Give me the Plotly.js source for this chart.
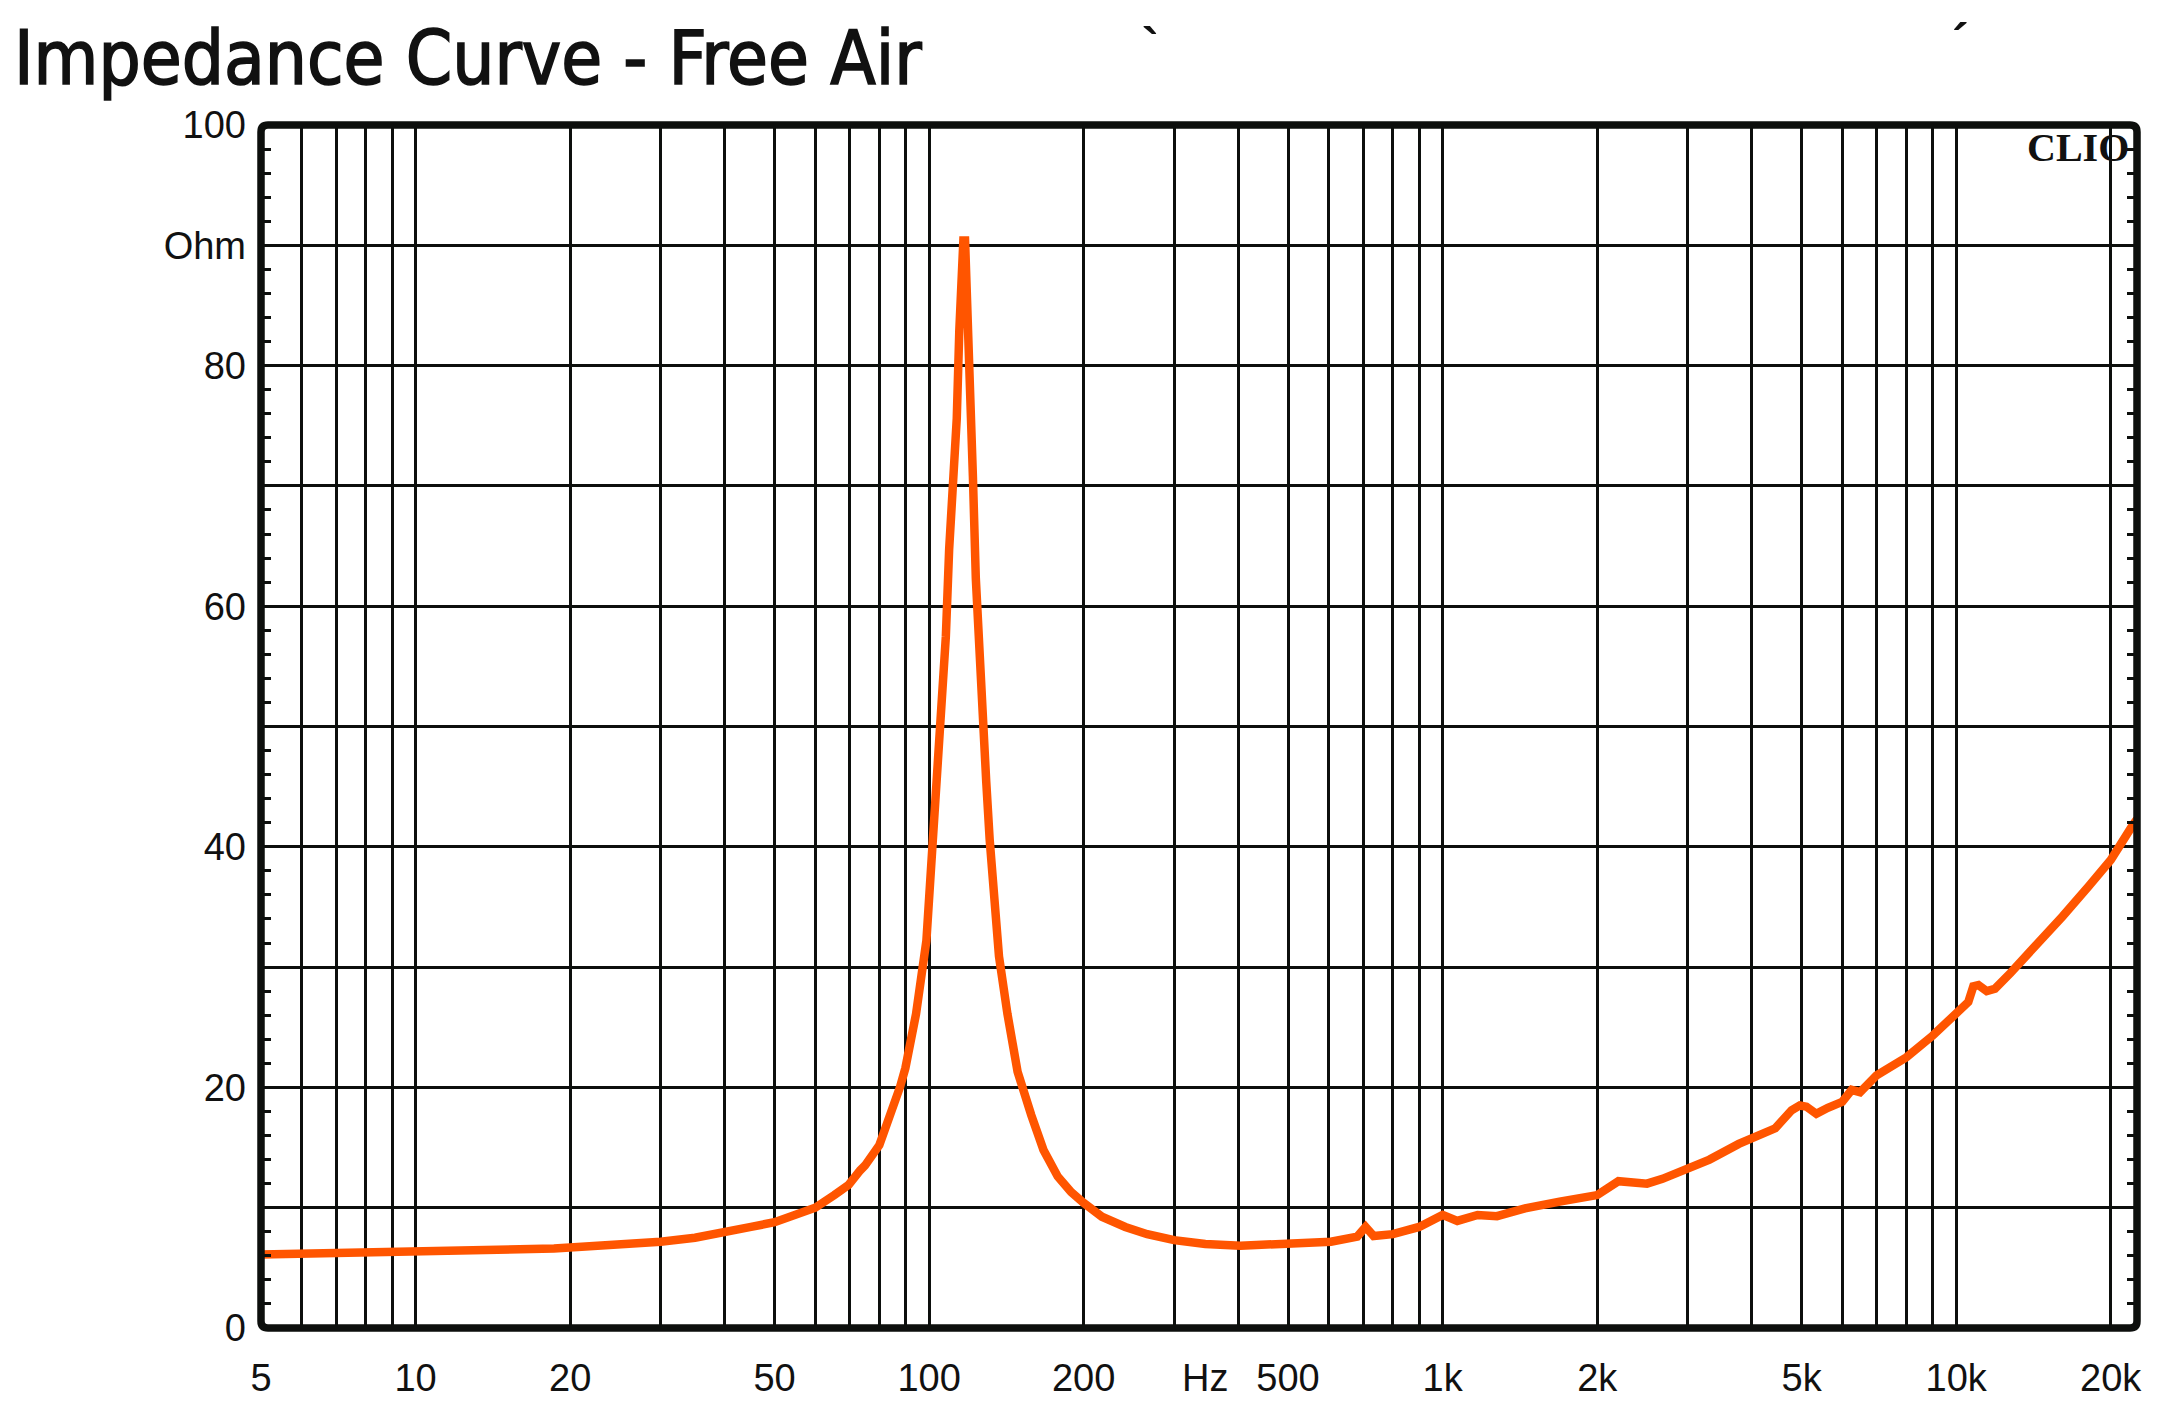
<!DOCTYPE html>
<html>
<head>
<meta charset="utf-8">
<script src="https://cdn.plot.ly/plotly-3.0.1.min.js"></script>
<style>
html,body{margin:0;padding:0;background:#fff;}
#chart{width:2164px;height:1414px;}
#chart .gtitle{stroke:#111;stroke-width:1.6px;}
</style>
</head>
<body>
<div id="chart"></div>
<script>
// Impedance curve (Hz, Ohm)
const freqHz = [5, 7, 10, 13.5, 18.6, 22.6, 26.5, 30, 35, 40, 45, 50, 55.6, 60, 65.4, 69.7, 73.4, 75, 80, 84.3, 86, 87.8, 89.9, 94.3, 98.8, 101, 104.1, 105.7, 107.8, 109.4, 111.1, 113.2, 114.5, 115.7, 116.6, 117.5, 118.9, 120.8, 121.7, 123.3, 125.2, 126.7, 129.2, 131.2, 133.7, 136.8, 142.1, 148.7, 158.1, 167, 178, 189, 200, 217, 241, 266, 300, 345, 404, 500, 606, 682, 708, 734, 800, 900, 954, 1000, 1068, 1170, 1276, 1447, 1690, 2000, 2200, 2500, 2680, 3000, 3309, 3773, 4000, 4443, 4781, 4960, 5110, 5343, 5625, 6000, 6260, 6500, 7000, 7600, 8000, 9000, 10000, 10560, 10800, 11050, 11470, 11900, 12750, 14340, 16100, 18100, 20000, 22070, 22500];
const impedanceOhm = [6.1, 6.2, 6.25, 6.35, 6.6, 6.84, 6.98, 7.17, 7.5, 7.9, 8.4, 8.8, 9.5, 10.0, 11.05, 11.9, 13.1, 13.5, 15.2, 17.8, 18.9, 20.05, 21.6, 26.1, 32.2, 38.2, 46.0, 51.5, 57.5, 64.7, 69.6, 75.6, 82.9, 87.7, 90.4, 90.4, 84.7, 78.7, 70.8, 62.3, 56.3, 50.3, 45.4, 40.6, 35.8, 30.9, 26.1, 21.3, 17.7, 14.8, 12.6, 11.3, 10.4, 9.25, 8.4, 7.8, 7.3, 6.98, 6.84, 6.98, 7.17, 7.6, 8.4, 7.65, 7.8, 8.4, 9.0, 9.4, 8.9, 9.4, 9.3, 9.95, 10.5, 11.05, 12.2, 12.0, 12.4, 13.35, 14.0, 15.3, 15.8, 16.6, 18.1, 18.5, 18.4, 17.8, 18.3, 18.8, 19.8, 19.6, 21.0, 21.9, 22.5, 24.3, 26.2, 27.1, 28.4, 28.5, 28.0, 28.2, 29.5, 31.8, 34.2, 36.7, 38.9, 41.8, 42.3];

// Axis labels
const xLabelVals = [5, 10, 20, 50, 100, 200, 345, 500, 1000, 2000, 5000, 10000, 20000];
const xLabelText = ['5', '10', '20', '50', '100', '200', 'Hz', '500', '1k', '2k', '5k', '10k', '20k'];
const xGridVals = [6, 7, 8, 9, 10, 20, 30, 40, 50, 60, 70, 80, 90, 100, 200, 300, 400, 500, 600, 700, 800, 900, 1000, 2000, 3000, 4000, 5000, 6000, 7000, 8000, 9000, 10000, 20000];
const yLabelVals = [0, 20, 40, 60, 80, 90, 100];
const yLabelText = ['0', '20', '40', '60', '80', 'Ohm', '100'];

const yTickVals = [];
const yTickText = [];
for (let v = 0; v <= 100; v += 2) {
  yTickVals.push(v);
  const i = yLabelVals.indexOf(v);
  yTickText.push(i >= 0 ? yLabelText[i] : '');
}

const ink = '#0d0f0d';
const tickFont = {family: 'Liberation Sans, Arial, sans-serif', size: 38, color: '#111'};

// rounded frame path in paper units
const rx = 7 / 1876, ry = 7 / 1203;
const framePath = `M ${rx},0 L ${1 - rx},0 Q 1,0 1,${ry} L 1,${1 - ry} Q 1,1 ${1 - rx},1 L ${rx},1 Q 0,1 0,${1 - ry} L 0,${ry} Q 0,0 ${rx},0 Z`;

const trace = {
  x: freqHz, y: impedanceOhm, type: 'scatter', mode: 'lines',
  line: {color: '#ff5500', width: 8.5, shape: 'linear'},
  hoverinfo: 'skip', showlegend: false, cliponaxis: true
};

const layout = {
  width: 2164, height: 1414,
  margin: {l: 261, r: 27, t: 125, b: 86, pad: 0},
  paper_bgcolor: '#ffffff', plot_bgcolor: '#ffffff',
  showlegend: false,
  title: {
    text: 'Impedance Curve - Free Air',
    font: {family: 'DejaVu Sans Condensed, Liberation Sans Narrow, DejaVu Sans, sans-serif', size: 74, color: '#111'},
    xref: 'container', yref: 'container', x: 14 / 2164, xanchor: 'left', y: 1 - 58 / 1414, yanchor: 'middle'
  },
  xaxis: {
    type: 'log',
    range: [Math.log10(5) - 1e-6, Math.log10(22500)],
    tickmode: 'array', tickvals: xLabelVals, ticktext: xLabelText,
    tickfont: tickFont, ticks: '', showgrid: false, zeroline: false, showline: false,
    ticklabelstandoff: 24,
    minor: {tickmode: 'array', tickvals: xGridVals, showgrid: true, gridcolor: ink, gridwidth: 3, ticks: ''},
    fixedrange: true
  },
  yaxis: {
    range: [0, 100],
    tickmode: 'array', tickvals: yTickVals, ticktext: yTickText,
    tickfont: tickFont, ticks: 'inside', ticklen: 10, tickwidth: 3, tickcolor: ink,
    mirror: 'allticks', showline: false, showgrid: false, zeroline: false,
    ticklabelstandoff: 14,
    minor: {tickmode: 'linear', tick0: 0, dtick: 10, showgrid: true, gridcolor: ink, gridwidth: 3, ticks: ''},
    fixedrange: true
  },
  shapes: [{
    type: 'path', xref: 'paper', yref: 'paper', path: framePath,
    line: {color: ink, width: 7.5}, layer: 'above'
  }],
  annotations: [
    {text: '<b>CLIO</b>', xref: 'paper', yref: 'paper', x: 1, y: 0.981, xanchor: 'right', yanchor: 'middle', xshift: -6,
     showarrow: false, font: {family: 'Liberation Serif, Times New Roman, serif', size: 40, color: '#111'}},
    {text: '<b>`</b>', xref: 'paper', yref: 'paper', x: 0.474, y: 1.066, xanchor: 'center', yanchor: 'middle',
     showarrow: false, font: {family: 'Liberation Sans, Arial, sans-serif', size: 50, color: '#111'}},
    {text: '<b>´</b>', xref: 'paper', yref: 'paper', x: 0.906, y: 1.069, xanchor: 'center', yanchor: 'middle',
     showarrow: false, font: {family: 'Liberation Sans, Arial, sans-serif', size: 50, color: '#111'}}
  ]
};

Plotly.newPlot('chart', [trace], layout, {displayModeBar: false, staticPlot: true});
</script>
</body>
</html>
